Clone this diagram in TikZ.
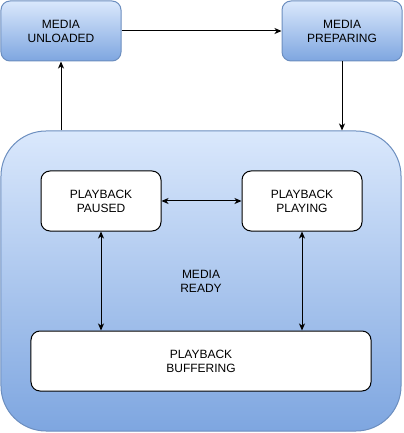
\documentclass[tikz,border=0pt]{standalone}
\usepackage{fontspec}
\setmainfont{Liberation Sans}
\usepackage{tikz}
\usetikzlibrary{arrows.meta,calc,positioning}

\definecolor{gradtop}{HTML}{DAE8FC}
\definecolor{gradbot}{HTML}{7EA6E0}
\definecolor{bluedraw}{HTML}{6C8EBF}

\begin{document}
\begin{tikzpicture}[x=1bp, y=1bp, node distance=160bp, >={Stealth[length=7bp,width=6bp,inset=2bp]},
font=\fontsize{12bp}{14bp}\selectfont,
mblock/.style = {draw=bluedraw, rectangle, rounded corners=9bp, minimum height=60bp, minimum width=120bp,
                 align=center, top color=gradtop, bottom color=gradbot, line width=1bp},
cblock/.style = {draw=bluedraw, rectangle, rounded corners=45bp, minimum height=300bp, minimum width=400bp,
                 align=center, top color=gradtop, bottom color=gradbot, line width=1bp},
pblock/.style = {draw=black, rectangle, rounded corners=9bp, minimum height=60bp, minimum width=120bp,
                 align=center, fill=white, line width=1bp},
                    ]
    \useasboundingbox (0,0) rectangle (403,-433);
    \node [mblock]  at (61,-31)        (unloaded){MEDIA\\UNLOADED};
    \node [mblock, right=of unloaded]  (preparing){MEDIA\\PREPARING};
    \node [cblock]  at (201,-281)      (ready){MEDIA\\READY};
    \node [pblock]  at (101,-201)      (paused){PLAYBACK\\PAUSED};
    \node [pblock, right=80bp of paused]  (playing){PLAYBACK\\PLAYING};
    \node [pblock, minimum width=340bp] at (201,-361) (buffering){PLAYBACK\\BUFFERING};
    \draw[line width=1bp,->] (unloaded)  -- (preparing);
    \draw[line width=1bp,->] (preparing) -- (preparing |- ready.north);
    \draw[line width=1bp,->] (ready.north -| unloaded) -- (unloaded);
    \draw[line width=1bp,<->] (paused)   -- (playing);
    \draw[line width=1bp,<->] (paused)   -- (paused |- buffering.north);
    \draw[line width=1bp,<->] (playing)  -- (playing |- buffering.north);
\end{tikzpicture}
\end{document}
